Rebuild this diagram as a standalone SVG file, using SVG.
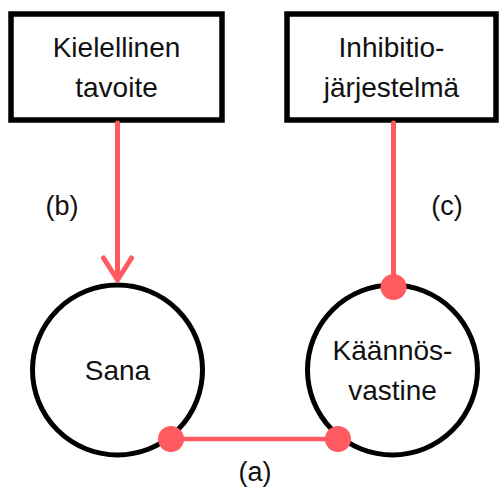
<svg xmlns="http://www.w3.org/2000/svg" width="499" height="492" viewBox="0 0 499 492">
<style>
.box{fill:#fff;stroke:#000;stroke-width:5.5}
.node{fill:#fff;stroke:#000;stroke-width:5}
.t{font-family:"Liberation Sans",Arial,sans-serif;font-size:28px;fill:#111;text-anchor:middle}
.lbl{font-family:"Liberation Sans",Arial,sans-serif;font-size:27px;fill:#111;text-anchor:middle}
.edge{stroke:#FF5A5F;stroke-width:5;fill:none;stroke-linecap:round;stroke-linejoin:round}
.dot{fill:#FF5A5F}
</style>
<g id="box1">
<rect class="box" x="11" y="14" width="211" height="106"/>
<text class="t" x="116.5" y="57">Kielellinen</text>
<text class="t" x="116.5" y="97">tavoite</text>
</g>
<g id="box2">
<rect class="box" x="287" y="14" width="209" height="106"/>
<text class="t" x="391.5" y="57">Inhibitio-</text>
<text class="t" x="391.5" y="97">järjestelmä</text>
</g>
<g id="sana">
<circle class="node" cx="117.5" cy="370" r="85"/>
<text class="t" x="117.5" y="380">Sana</text>
</g>
<g id="kaannosvastine">
<circle class="node" cx="392.5" cy="370" r="85"/>
<text class="t" x="392.5" y="360">Käännös-</text>
<text class="t" x="392.5" y="400">vastine</text>
</g>
<g id="connectors">
<line class="edge" x1="117.5" y1="123" x2="117.5" y2="279"/>
<polyline class="edge" points="103.5,258 117.5,280 131.5,258"/>
<line class="edge" x1="393.5" y1="123" x2="393.5" y2="287"/>
<circle class="dot" cx="393.5" cy="287" r="13"/>
<line class="edge" x1="171" y1="439" x2="338" y2="439" style="stroke-width:4.5"/>
<circle class="dot" cx="171" cy="439" r="13"/>
<circle class="dot" cx="338" cy="439" r="13"/>
</g>
<g id="labels">
<text class="lbl" x="62" y="215">(b)</text>
<text class="lbl" x="447" y="215">(c)</text>
<text class="lbl" x="255" y="481">(a)</text>
</g>
</svg>
